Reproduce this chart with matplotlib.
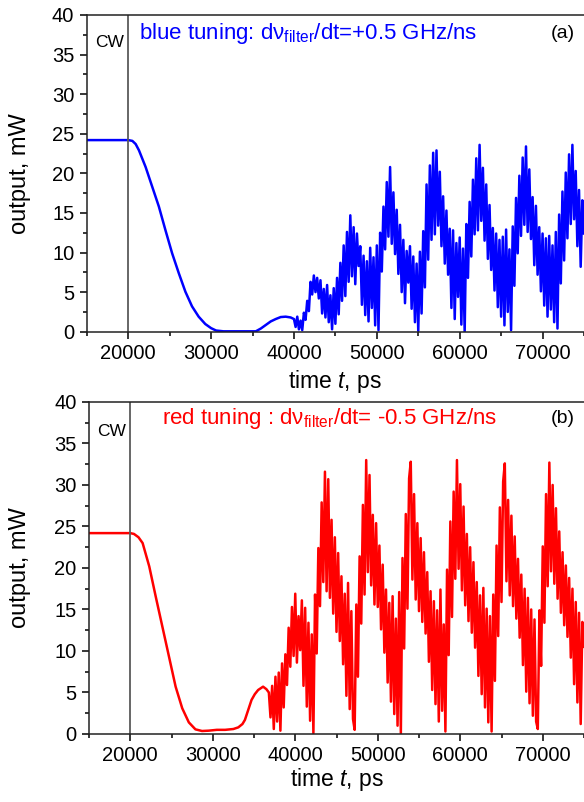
import numpy as np
import matplotlib
matplotlib.use('Agg')
import matplotlib.pyplot as plt
from matplotlib.ticker import MultipleLocator

plt.rcParams['font.family'] = ['Liberation Sans', 'DejaVu Sans']
plt.rcParams['mathtext.fontset'] = 'custom'
plt.rcParams['mathtext.rm'] = 'Liberation Sans'
plt.rcParams['mathtext.it'] = 'Liberation Sans:italic'

# ---- panel (a): blue tuning ----
# smooth part (CW level, switch-off and slow bump)
blue_t_smooth = [15000, 20000, 20500, 20900, 21300, 22100, 22900, 23700, 24500, 25300, 26100,
                 26900, 27700, 28500, 29300, 30000, 30600, 31500, 35400, 36000, 36600,
                 37200, 37800, 38400, 39000, 39600]
blue_v_smooth = [24.2, 24.2, 24.1, 23.7, 22.9, 20.8, 18.3, 15.8, 12.8, 9.9, 7.4,
                 5.05, 3.2, 1.9, 0.97, 0.45, 0.15, 0.05, 0.05, 0.4, 0.85,
                 1.3, 1.6, 1.85, 1.9, 1.8]
# oscillating part, sampled every 200 ps from 40000 to 75000 ps
blue_t0, blue_dt = 40000, 200
blue_osc = [1.6, 0.6, 1.9, 0.3, 1.4,
            0.2, 2.4, 1.5, 3.9, 2.6,
            6.3, 4.7, 7.1, 5.0, 6.8,
            4.2, 6.5, 2.3, 5.4, 1.8,
            5.9, 1.2, 4.6, 0.3, 5.5,
            1.0, 6.8, 2.2, 8.7, 3.9,
            10.9, 4.5, 12.6, 6.3, 14.7,
            7.0, 13.2, 6.0, 12.4, 8.3,
            10.8, 3.4, 9.6, 2.1, 8.9,
            1.3, 10.6, 3.0, 9.4, 0.8,
            10.9, 0.2, 12.5, 7.6, 15.8,
            10.4, 18.9, 12.0, 20.8, 11.1,
            17.6, 9.8, 15.4, 7.3, 13.5,
            5.0, 11.6, 3.6, 10.2, 6.2,
            10.8, 2.9, 9.5, 1.2, 8.6,
            0.1, 10.1, 2.3, 12.7, 5.6,
            18.6, 9.1, 21.0, 11.6, 22.6,
            12.3, 22.9, 13.4, 20.2, 10.8,
            17.1, 8.6, 15.3, 7.2, 13.0,
            3.0, 12.8, 1.6, 11.2, 4.4,
            11.9, 0.9, 10.5, 0.0, 13.6,
            6.8, 16.4, 9.5, 19.2, 12.3,
            21.9, 12.8, 23.6, 14.0, 20.7,
            11.5, 18.6, 9.2, 16.0, 7.8,
            13.1, 5.2, 12.4, 3.1, 11.6,
            1.9, 12.0, 0.8, 12.9, 2.5,
            10.4, 0.2, 13.3, 5.8, 16.9,
            9.9, 19.7, 12.1, 22.0, 13.5,
            23.4, 12.6, 20.5, 11.7, 17.0,
            8.4, 15.9, 7.2, 13.2, 5.1,
            12.4, 3.3, 11.8, 1.9, 12.1,
            2.8, 10.9, 1.2, 12.6, 0.4,
            14.8, 6.1, 17.7, 9.0, 20.1,
            11.8, 22.4, 13.6, 23.6, 14.2,
            20.3, 10.8, 17.9, 8.2, 16.6,
            12.4]

# ---- panel (b): red tuning ----
red_t_smooth = [15000, 20000, 20450, 21000, 21500, 22300, 23100, 23900, 24700, 25500,
                26300, 27100, 27900, 28700, 29500, 30500, 31500, 32500, 33100, 33600,
                33900, 34300, 34700, 35100, 35500, 36100, 36500, 36800]
red_v_smooth = [24.2, 24.2, 24.1, 23.7, 23.0, 20.2, 16.5, 12.9, 9.3, 5.7,
                3.1, 1.4, 0.56, 0.36, 0.4, 0.5, 0.5, 0.6, 0.8, 1.2,
                1.7, 2.9, 4.1, 4.8, 5.3, 5.7, 5.4, 5.0]
red_t0, red_dt = 37000, 200
red_osc = [2.0, 5.8, 0.6, 6.9, 1.5,
           7.4, 0.4, 8.5, 3.2, 9.6,
           5.9, 12.8, 8.1, 15.3, 9.4,
           16.9, 8.6, 14.2, 10.1, 16.1,
           5.8, 15.2, 3.3, 13.4, 1.6,
           12.0, 0.1, 16.8, 9.7, 22.4,
           15.4, 27.9, 18.3, 31.6, 17.2,
           30.7, 16.4, 25.8, 14.5, 23.7,
           12.3, 21.8, 11.2, 19.0, 8.4,
           16.9, 4.6, 18.2, 3.0, 14.8,
           1.8, 0.5, 15.6, 6.9, 21.4,
           13.3, 27.6, 16.8, 33.0, 19.5,
           31.2, 17.9, 26.4, 15.6, 25.4,
           15.3, 22.7, 12.6, 20.4, 9.8,
           17.4, 6.2, 15.8, 3.9, 16.6,
           2.4, 13.9, 1.0, 17.1, 0.1,
           21.2, 10.3, 26.5, 15.1, 30.8,
           32.8, 18.6, 28.9, 16.2, 25.4,
           14.8, 23.6, 13.5, 21.9, 12.1,
           19.5, 8.7, 17.2, 5.3, 16.0,
           3.6, 14.9, 1.5, 17.4, 2.8,
           13.2, 0.3, 19.8, 9.5, 25.6,
           14.1, 29.2, 18.7, 33.0, 19.9,
           30.1, 17.3, 27.4, 15.5, 24.1,
           13.6, 22.5, 12.2, 20.7, 10.4,
           18.3, 7.0, 16.7, 4.8, 17.6,
           3.2, 15.1, 1.4, 14.2, 0.3,
           16.8, 6.4, 22.7, 11.8, 27.3,
           15.9, 30.4, 32.6, 18.4, 28.2,
           16.7, 26.3, 15.4, 23.8, 13.9,
           21.1, 11.6, 19.2, 8.3, 17.5,
           5.1, 16.4, 3.7, 15.0, 2.2,
           13.8, 1.5, 0.6, 14.9, 8.2,
           22.6, 13.4, 28.9, 17.8, 32.7,
           19.6, 30.0, 18.1, 27.2, 16.3,
           24.4, 14.6, 21.9, 13.1, 20.3,
           11.7, 18.8, 9.2, 17.5, 6.0,
           15.9, 3.8, 14.6, 1.2, 13.5,
           10.5]

panels = [
    dict(t_s=blue_t_smooth, v_s=blue_v_smooth, t0=blue_t0, dt=blue_dt, osc=blue_osc,
         color='#0000ff', rect=[0.1486, 0.5864, 0.8514, 0.3949],
         label='blue tuning: d\u03bd$_{\\mathrm{filter}}$/dt=+0.5 GHz/ns',
         lx=21300, ly=37.6, tag='(a)', xl_y=-0.158, yl_x=-0.134),
    dict(t_s=red_t_smooth, v_s=red_v_smooth, t0=red_t0, dt=red_dt, osc=red_osc,
         color='#ff0000', rect=[0.1524, 0.0848, 0.8476, 0.4140],
         label='red tuning : d\u03bd$_{\\mathrm{filter}}$/dt= -0.5 GHz/ns',
         lx=23800, ly=38.0, tag='(b)', xl_y=-0.136, yl_x=-0.139),
]

fig = plt.figure(figsize=(5.84, 8.02), dpi=100)

for p in panels:
    ax = fig.add_axes(p['rect'])
    t_osc = p['t0'] + p['dt'] * np.arange(len(p['osc']))
    t = np.concatenate([p['t_s'], t_osc])
    v = np.concatenate([p['v_s'], p['osc']])
    ax.plot(t, v, color=p['color'], lw=1.8)
    ax.axvline(20000, color='#5a5a5a', lw=1.3)

    ax.set_xlim(15000, 75000)
    ax.set_ylim(0, 40)
    ax.xaxis.set_major_locator(MultipleLocator(10000))
    ax.xaxis.set_minor_locator(MultipleLocator(5000))
    ax.yaxis.set_major_locator(MultipleLocator(5))
    ax.yaxis.set_minor_locator(MultipleLocator(2.5))
    ax.tick_params(which='major', direction='out', length=5, width=1.1, labelsize=14.5, pad=4)
    ax.tick_params(which='minor', direction='out', length=3, width=1.1)
    ax.spines['right'].set_visible(False)
    for s in ['left', 'bottom', 'top']:
        ax.spines[s].set_linewidth(1.1)
        ax.spines[s].set_color('#222222')

    ax.text(0.5, p['xl_y'], 'time $t$, ps', fontsize=16.5, transform=ax.transAxes,
            ha='center', va='center')
    ax.text(p['yl_x'], 0.5, 'output, mW', fontsize=17, rotation=90, transform=ax.transAxes,
            ha='center', va='center')

    ax.text(16000, 36.5, 'CW', fontsize=12.5, va='center')
    ax.text(p['lx'], p['ly'], p['label'], color=p['color'], fontsize=16, va='center')
    ax.text(73900, p['ly'], p['tag'], fontsize=14, va='center', ha='right')

fig.savefig('out.png', dpi=100)
